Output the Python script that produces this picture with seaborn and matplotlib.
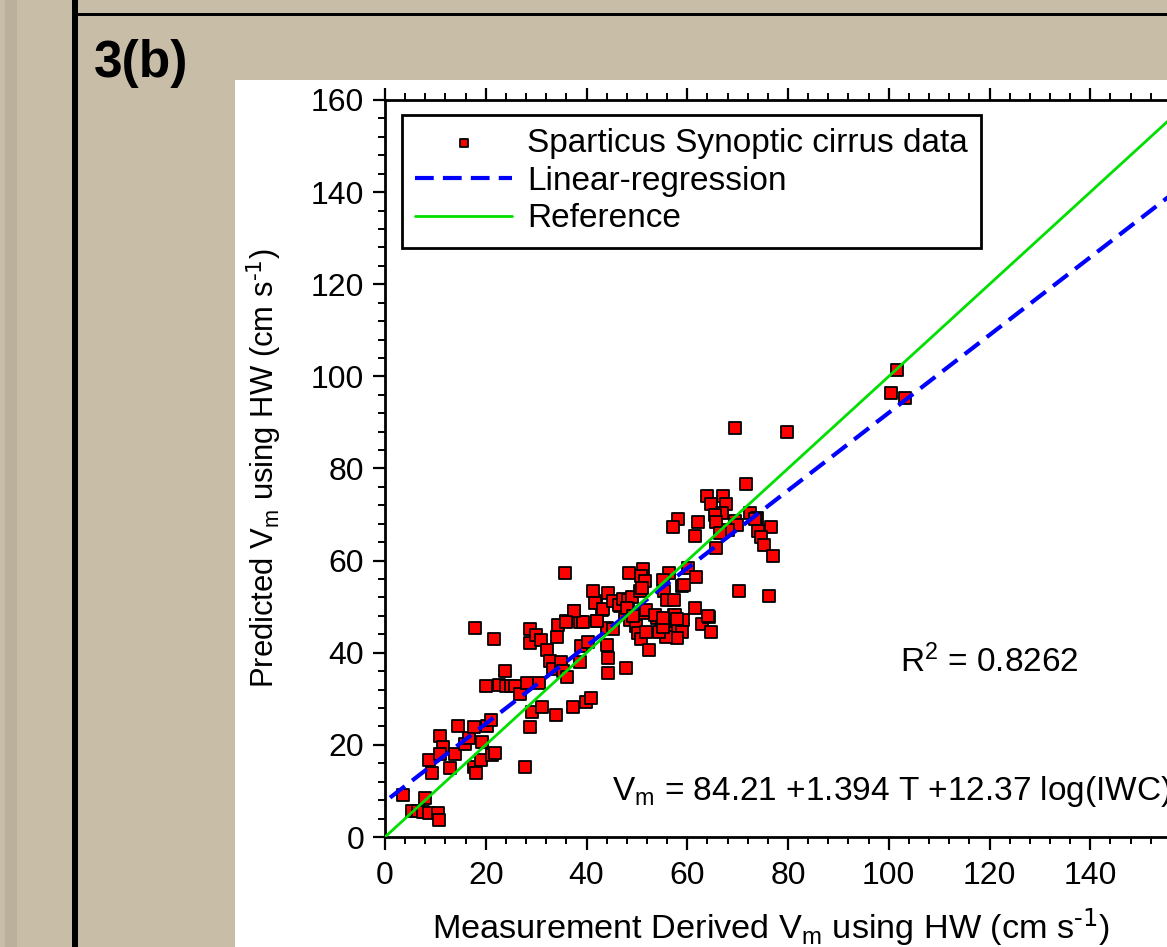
import matplotlib
matplotlib.use('Agg')
import matplotlib.pyplot as plt
from matplotlib.patches import Rectangle
from matplotlib.ticker import MultipleLocator
import numpy as np
import pandas as pd
import seaborn as sns

# measured vs predicted Vm (cm/s)
measured = [3.6, 7.9, 5.3, 6.6, 7.5, 8.8, 10.6, 10.8, 8.8, 9.3, 10.9, 11.6, 10.9, 12.9, 13.9,
            14.4, 15.9, 16.7, 17.7, 17.9, 17.7, 18.1, 19.2, 19.0, 20.2, 20.0, 21.0, 21.2, 21.8,
            21.7, 22.6, 23.8, 24.1, 25.1, 25.8, 26.7, 27.8, 28.1, 28.8, 28.8, 29.1, 28.8, 30.0,
            30.6, 30.9, 31.1, 32.1, 32.7, 33.3, 34.0, 34.2, 34.3, 35.0, 35.3, 36.0, 36.2, 37.4,
            37.5, 38.7, 39.0, 38.7, 39.4, 39.9, 40.8, 40.3, 42.0, 41.9, 43.0, 44.0, 44.3, 44.2,
            44.0, 47.8, 45.3, 46.6, 47.6, 48.6, 49.9, 50.3, 50.9, 51.6, 51.9, 52.4, 51.9, 53.9,
            54.9, 55.8, 56.4, 57.3, 57.7, 58.1, 59.1, 58.9, 57.9, 55.8, 54.4, 55.1, 61.5, 63.0,
            64.3, 64.8, 69.4, 71.6, 64.0, 67.0, 64.7, 67.7, 66.8, 65.5, 65.8, 69.4, 69.8, 72.4,
            73.8, 73.4, 76.7, 74.1, 74.6, 75.3, 77.1, 68.1, 66.5, 65.8, 58.2, 57.2, 62.2, 61.5,
            60.1, 61.8, 58.9, 59.3, 70.3, 76.2, 35.7, 48.5, 51.3, 50.9, 51.6, 56.4, 55.1, 55.4,
            55.9, 57.4, 41.2, 41.6, 44.3, 43.2, 45.3, 46.5, 47.2, 48.3, 49.1, 50.6, 51.0, 48.0,
            49.3, 53.6, 55.2, 57.5, 58.0, 64.1, 37.6, 36.0, 42.1, 101.7, 100.5, 103.2, 79.8]
predicted = [9.1, 8.4, 5.7, 5.7, 5.5, 5.3, 5.3, 3.7, 16.7, 14.0, 22.0, 19.6, 18.0, 14.9, 18.0,
             24.1, 20.2, 21.4, 23.8, 45.4, 15.3, 13.8, 20.7, 16.7, 24.1, 32.7, 25.4, 17.8, 18.3,
             42.9, 33.0, 36.1, 32.8, 32.8, 32.8, 31.1, 15.3, 33.4, 45.1, 42.1, 27.2, 23.8, 43.9,
             33.4, 42.7, 28.2, 40.7, 38.3, 36.4, 26.5, 43.5, 46.1, 38.1, 36.1, 46.8, 34.8, 28.2,
             49.0, 46.6, 41.4, 38.1, 46.6, 29.4, 30.1, 42.4, 46.8, 51.2, 49.3, 41.7, 38.8, 35.5,
             45.4, 36.6, 45.1, 50.1, 48.6, 47.2, 45.7, 44.2, 42.9, 48.6, 44.6, 40.7, 49.3, 47.5,
             47.2, 47.0, 46.1, 48.3, 47.0, 45.7, 47.2, 44.6, 43.2, 43.5, 44.6, 45.6, 49.7, 46.3,
             47.8, 44.6, 88.7, 76.7, 74.0, 74.0, 72.2, 72.2, 70.3, 69.8, 68.3, 68.5, 67.8, 70.3,
             69.2, 69.0, 67.4, 66.4, 65.1, 63.5, 60.9, 66.6, 65.9, 62.7, 69.0, 67.4, 68.3, 65.3,
             58.4, 56.4, 54.5, 54.7, 53.3, 52.4, 57.3, 57.3, 58.2, 56.7, 55.5, 57.3, 55.9, 53.3,
             51.5, 51.4, 53.3, 50.9, 52.9, 49.5, 51.2, 50.4, 51.6, 51.4, 52.2, 53.3, 54.0, 49.7,
             47.9, 48.3, 47.5, 48.3, 47.3, 47.9, 49.1, 46.6, 47.0, 101.4, 96.4, 95.2, 88.0]

ref_x = [0, 160]
reg_x = [1, 160]
reg_intercept = 7.7
reg_slope = 0.844
r2_text = r'R$^{2}$ = 0.8262'
eq_text = r'V$_{m}$ = 84.21 +1.394 T +12.37 log(IWC)'

df = pd.DataFrame({'measured': measured, 'predicted': predicted})
reg_y = [reg_intercept + reg_slope * v for v in reg_x]

sns.set_style('ticks')
plt.rcParams['font.family'] = ['Liberation Sans', 'DejaVu Sans']
plt.rcParams['mathtext.default'] = 'regular'
plt.rcParams['text.color'] = 'black'
plt.rcParams['axes.labelcolor'] = 'black'

W, H = 1167, 947
fig = plt.figure(figsize=(W / 100, H / 100), dpi=100, facecolor='#C8BEA8')

# screenshot frame: white panel, dark rules, left strip (kept behind the axes)
fig.patches.append(Rectangle((235 / W, 0), 1, (H - 80) / H, transform=fig.transFigure,
                             facecolor='white', edgecolor='none', zorder=-5))
fig.patches.append(Rectangle((5 / W, 0), 12 / W, 1, transform=fig.transFigure,
                             facecolor='#B3A893', edgecolor='none', alpha=0.6, zorder=-5))
fig.patches.append(Rectangle((72 / W, 0), 6 / W, 1, transform=fig.transFigure,
                             facecolor='black', edgecolor='none', zorder=-4))
fig.patches.append(Rectangle((78 / W, (H - 16) / H), 1, 2.5 / H, transform=fig.transFigure,
                             facecolor='black', edgecolor='none', zorder=-4))
fig.text(94 / W, 1 - 77 / H, '3(b)', fontsize=37, fontweight='bold', va='baseline',
         ha='left', color='black')

# axes extend past the right edge, as in the cropped screenshot
ax = fig.add_axes([385 / W, (H - 837) / H, 806 / W, 737 / H])
ax.set_facecolor('white')

sns.scatterplot(data=df, x='measured', y='predicted', marker='s', s=78, color='#FF0000',
                edgecolor='black', linewidth=1.3, label='Sparticus Synoptic cirrus data',
                ax=ax, zorder=3)
sns.lineplot(x=reg_x, y=reg_y, color='#0000FF', lw=3.0, linestyle=(0, (4.5, 2.2)),
             label='Linear-regression', ax=ax, zorder=4)
sns.lineplot(x=ref_x, y=ref_x, color='#00E000', lw=2.0, label='Reference', ax=ax, zorder=4)

ax.set_xlim(0, 160)
ax.set_ylim(0, 160)
ax.xaxis.set_major_locator(MultipleLocator(20))
ax.xaxis.set_minor_locator(MultipleLocator(4))
ax.yaxis.set_major_locator(MultipleLocator(20))
ax.yaxis.set_minor_locator(MultipleLocator(4))
ax.tick_params(which='major', direction='out', length=9, width=1.6, labelsize=23,
               top=True, right=True, pad=6, colors='black')
ax.tick_params(axis='x', which='major', pad=8)
ax.tick_params(which='minor', direction='out', length=5, width=1.4,
               top=True, right=True, colors='black')
for sp in ax.spines.values():
    sp.set_visible(True)
    sp.set_linewidth(2)
    sp.set_color('black')

ax.set_xlabel(r'Measurement Derived V$_{m}$ using HW (cm s$^{\text{-1}}$)', fontsize=24.7)
ax.set_ylabel(r'Predicted V$_{m}$ using HW (cm s$^{\text{-1}}$)', fontsize=22.3)
ax.xaxis.set_label_coords(0.479, -0.095)
ax.yaxis.set_label_coords(-0.125, 0.5)

ax.text(102.2, 35.9, r2_text, fontsize=24, va='baseline', ha='left')
ax.text(45.0, 8.0, eq_text, fontsize=24, va='baseline', ha='left')

leg = ax.legend(loc='upper left', bbox_to_anchor=(0.021, 0.98), borderaxespad=0,
                fontsize=24, frameon=True, fancybox=False, edgecolor='black',
                framealpha=1, handlelength=2.9, handletextpad=0.45, borderpad=0.4,
                labelspacing=0.2, markerscale=0.7)
leg.get_frame().set_linewidth(2)

fig.savefig('out.png', dpi=100)
